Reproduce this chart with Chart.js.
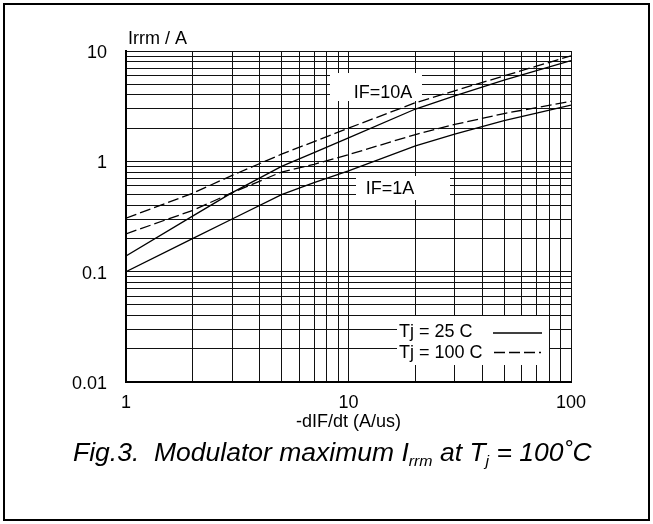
<!DOCTYPE html>
<html>
    <head>
        <style>
            body { margin: 0; background: #fff; }
            #wrap { position: absolute; left: 0; top: 0; width: 653px; height: 524px; }
        </style>
    </head>
    <body>
        <script src="https://cdn.jsdelivr.net/npm/chart.js"></script>
        <div id="wrap"><canvas id="chart" width="653" height="524"></canvas></div>
        <script>
            // -dIF/dt in A/us
            const dIdt = [1, 2, 3, 5, 7, 10, 20, 30, 50, 70, 100];
            // Irrm in A
            const if1A_25C   = [0.1, 0.2, 0.3, 0.5, 0.64, 0.82, 1.38, 1.76, 2.34, 2.74, 3.23];
            const if1A_100C  = [0.22, 0.36, 0.52, 0.8, 0.94, 1.15, 1.75, 2.16, 2.71, 3.07, 3.5];
            const if10A_25C  = [0.139, 0.32, 0.52, 0.9, 1.2, 1.63, 2.98, 3.92, 5.44, 6.64, 8.2];
            const if10A_100C = [0.305, 0.515, 0.746, 1.16, 1.51, 2.0, 3.4, 4.36, 5.95, 7.29, 9.05];

            const xTickLabels = [1, 10, 100];
            const yTickLabels = [0.01, 0.1, 1, 10];
            const legendLabels = ["Tj = 25 C", "Tj = 100 C"];
            const curveLabels = ["IF=10A", "IF=1A"];

            const FONT = "'Liberation Sans', Arial, sans-serif";
            const DASH = [11, 4];

            function pts(ys) {
                return dIdt.map((x, i) => ({x: x, y: ys[i]}));
            }

            function logTicks(decades) {
                var out = [];
                for (var d = 0; d < decades.length - 1; d++) {
                    for (var m = 1; m < 10; m++) {
                        out.push({value: +(decades[d] * m).toPrecision(3)});
                    }
                }
                out.push({value: decades[decades.length - 1]});
                return out;
            }

            function isLabel(list, v) {
                return list.some(l => Math.abs(l - v) / l < 1e-6);
            }

            function line(label, ys, dashed) {
                return {
                    label: label,
                    data: pts(ys),
                    borderColor: "#000",
                    borderWidth: 1.3,
                    borderDash: dashed ? DASH : [],
                    pointRadius: 0,
                    tension: 0,
                    fill: false
                };
            }

            const extras = {
                id: "extras",
                beforeDatasetsDraw(chart) {
                    var ctx = chart.ctx;
                    ctx.save();
                    ctx.fillStyle = "#fff";
                    // label boxes punched through the grid
                    ctx.fillRect(330, 73, 92, 28);
                    ctx.fillRect(356, 176, 94, 24);
                    ctx.fillRect(397, 316, 152, 49);

                    ctx.fillStyle = "#000";
                    ctx.font = "18px " + FONT;
                    ctx.textBaseline = "alphabetic";
                    ctx.textAlign = "center";
                    ctx.fillText(curveLabels[0], 383, 98);
                    ctx.fillText(curveLabels[1], 390, 194);

                    // legend
                    ctx.textAlign = "left";
                    ctx.fillText(legendLabels[0], 399, 337);
                    ctx.fillText(legendLabels[1], 399, 358);
                    ctx.strokeStyle = "#000";
                    ctx.lineWidth = 1.3;
                    ctx.beginPath();
                    ctx.moveTo(493, 333);
                    ctx.lineTo(542, 333);
                    ctx.stroke();
                    ctx.setLineDash(DASH);
                    ctx.beginPath();
                    ctx.moveTo(494, 352.5);
                    ctx.lineTo(541, 352.5);
                    ctx.stroke();
                    ctx.restore();
                },
                afterDraw(chart) {
                    var ctx = chart.ctx;
                    ctx.save();
                    ctx.fillStyle = "#000";
                    ctx.textAlign = "left";
                    ctx.textBaseline = "alphabetic";
                    ctx.font = "18px " + FONT;
                    ctx.fillText("Irrm / A", 128, 44);

                    // caption with subscripts, a little wider than the font's own width
                    var big = "italic 25px " + FONT;
                    var small = "italic 15px " + FONT;
                    var parts = [
                        ["Fig.3.  Modulator maximum I", big, 0],
                        ["rrm", small, 5],
                        [" at T", big, 0],
                        ["j", small, 5],
                        [" = 100\u02DAC", big, 0]
                    ];
                    ctx.translate(73, 461);
                    ctx.scale(1.06, 1);
                    var x = 0;
                    parts.forEach(p => {
                        ctx.font = p[1];
                        ctx.fillText(p[0], x, p[2]);
                        x += ctx.measureText(p[0]).width;
                    });
                    ctx.setTransform(1, 0, 0, 1, 0, 0);

                    // outer frame
                    ctx.strokeStyle = "#000";
                    ctx.lineWidth = 2;
                    ctx.strokeRect(4, 4, 645, 516);
                    ctx.restore();
                }
            };

            new Chart(document.getElementById("chart"), {
                type: "line",
                data: {
                    datasets: [
                        line("IF=1A Tj=25C", if1A_25C, false),
                        line("IF=1A Tj=100C", if1A_100C, true),
                        line("IF=10A Tj=25C", if10A_25C, false),
                        line("IF=10A Tj=100C", if10A_100C, true)
                    ]
                },
                options: {
                    responsive: false,
                    animation: false,
                    devicePixelRatio: 1,
                    layout: {padding: {left: 0, right: 82, top: 51, bottom: 89}},
                    plugins: {legend: {display: false}, tooltip: {enabled: false}},
                    scales: {
                        x: {
                            type: "logarithmic",
                            min: 1,
                            max: 100,
                            afterBuildTicks: s => { s.ticks = logTicks(xTickLabels); },
                            afterFit: s => { s.height = 53; },
                            grid: {color: "#111", lineWidth: 1, drawTicks: false},
                            border: {color: "#000", width: 2},
                            ticks: {
                                autoSkip: false,
                                maxRotation: 0,
                                padding: 10,
                                color: "#000",
                                font: {family: FONT, size: 18},
                                callback: v => isLabel(xTickLabels, v) ? String(v) : ""
                            },
                            title: {
                                display: true,
                                text: "-dIF/dt (A/us)",
                                color: "#000",
                                font: {family: FONT, size: 18},
                                padding: {top: 0, bottom: 2}
                            }
                        },
                        y: {
                            type: "logarithmic",
                            min: 0.01,
                            max: 10,
                            afterBuildTicks: s => { s.ticks = logTicks(yTickLabels); },
                            afterFit: s => { s.width = 126; },
                            grid: {color: "#111", lineWidth: 1, drawTicks: false},
                            border: {color: "#000", width: 2},
                            ticks: {
                                autoSkip: false,
                                padding: 19,
                                labelOffset: 2,
                                color: "#000",
                                font: {family: FONT, size: 18},
                                callback: v => isLabel(yTickLabels, v) ? String(v) : ""
                            }
                        }
                    }
                },
                plugins: [extras]
            });
        </script>
    </body>
</html>
